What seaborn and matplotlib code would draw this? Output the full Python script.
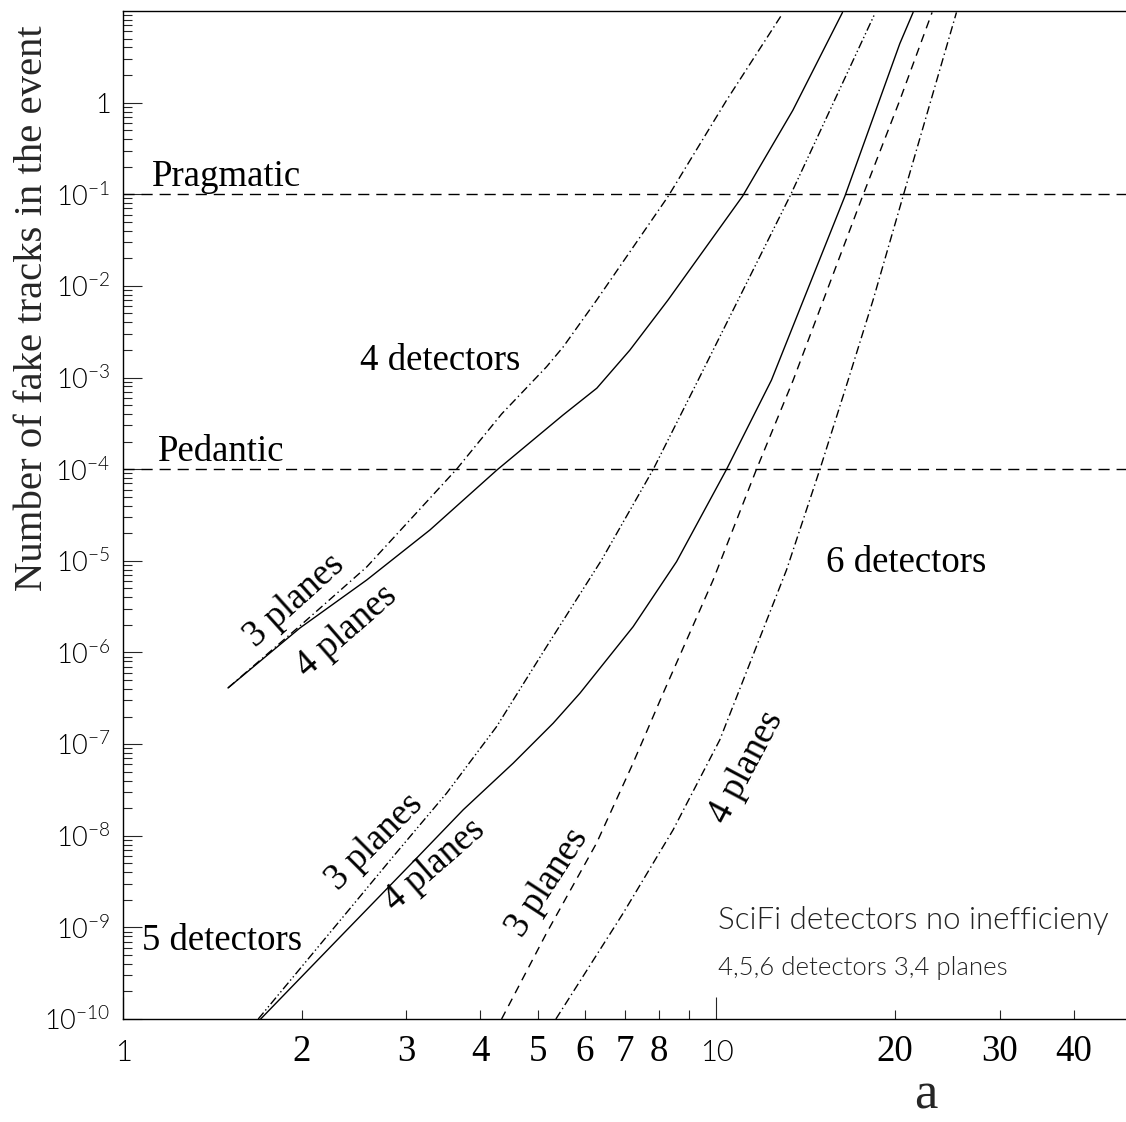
import numpy as np
import pandas as pd
import matplotlib
matplotlib.use("Agg")
import matplotlib.pyplot as plt
import seaborn as sns
from matplotlib.ticker import FixedLocator, FixedFormatter, LogLocator, NullFormatter, FuncFormatter

# ---------------- data ----------------
a_4det_3pl = [1.503, 1.987, 2.574, 3.649, 4.345, 5.173, 5.518, 6.281, 8.293, 10.40, 12.92]
n_4det_3pl = [4.10e-7, 1.95e-6, 8.56e-6, 1.0e-4, 4.0e-4, 1.31e-3, 2.16e-3, 6.98e-3, 0.0951, 1.06, 9.35]

a_4det_4pl = [1.503, 1.987, 2.574, 3.290, 4.266, 5.512, 6.288, 7.146, 8.283, 11.065, 13.45, 16.31]
n_4det_4pl = [4.10e-7, 1.85e-6, 6.17e-6, 2.17e-5, 9.78e-5, 3.89e-4, 7.66e-4, 1.99e-3, 6.98e-3, 0.0951, 0.824, 9.65]

a_5det_3pl = [1.690, 2.196, 2.853, 3.510, 4.261, 5.173, 6.404, 7.825, 9.315, 13.30, 18.49]
n_5det_3pl = [1.0e-10, 7.70e-10, 5.93e-9, 2.91e-8, 1.55e-7, 1.157e-6, 1.02e-5, 9.95e-5, 9.37e-4, 0.0951, 9.35]

a_5det_4pl = [1.706, 2.309, 3.125, 3.744, 4.545, 5.308, 5.888, 7.238, 8.566, 10.40, 12.38, 16.46, 20.37, 21.45]
n_5det_4pl = [1.0e-10, 7.57e-10, 5.70e-9, 1.92e-8, 6.19e-8, 1.69e-7, 3.59e-7, 1.91e-6, 9.78e-6, 9.95e-5, 9.37e-4, 0.0951, 4.40, 9.65]

a_6det_3pl = [4.345, 5.173, 6.281, 7.193, 7.523, 8.133, 9.873, 11.68, 13.47, 17.63, 20.37, 23.09]
n_6det_3pl = [1.0e-10, 8.67e-10, 8.31e-9, 5.68e-8, 1.11e-7, 3.59e-7, 6.17e-6, 9.95e-5, 9.37e-4, 0.0951, 1.06, 9.65]

a_6det_4pl = [5.364, 6.965, 8.454, 10.13, 13.13, 14.94, 16.67, 18.36, 20.63, 25.38]
n_6det_4pl = [1.0e-10, 1.43e-9, 1.16e-8, 1.11e-7, 8.0e-6, 9.95e-5, 9.37e-4, 6.98e-3, 0.0951, 9.65]

ref_levels = [1e-1, 1e-4]
ref_names = ["Pragmatic", "Pedantic"]

x_major_ticks = [1, 10]
x_major_labels = ["1", "10"]
x_minor_ticks = [2, 3, 4, 5, 6, 7, 8, 9, 20, 30, 40]
x_minor_labels = ["2", "3", "4", "5", "6", "7", "8", "", "20", "30", "40"]
y_major_ticks = [1e-10, 1e-9, 1e-8, 1e-7, 1e-6, 1e-5, 1e-4, 1e-3, 1e-2, 1e-1, 1]

series = {
    "4det_3pl": (a_4det_3pl, n_4det_3pl),
    "4det_4pl": (a_4det_4pl, n_4det_4pl),
    "5det_3pl": (a_5det_3pl, n_5det_3pl),
    "5det_4pl": (a_5det_4pl, n_5det_4pl),
    "6det_3pl": (a_6det_3pl, n_6det_3pl),
    "6det_4pl": (a_6det_4pl, n_6det_4pl),
}
frames = [pd.DataFrame({"a": xs, "n": ys, "curve": name}) for name, (xs, ys) in series.items()]
df = pd.concat(frames, ignore_index=True)

dash_styles = {
    "4det_3pl": (6, 2.5, 1, 2.5),
    "4det_4pl": "",
    "5det_3pl": (6, 2, 1, 2, 1, 2),
    "5det_4pl": "",
    "6det_3pl": (6, 4.5),
    "6det_4pl": (6, 2.5, 1, 2.5),
}

# ---------------- style ----------------
sns.set_style("ticks")
LIGHT = ["Lato", "Roboto", "DejaVu Sans"]
SERIF = ["Liberation Serif", "DejaVu Serif"]
plt.rcParams["font.family"] = LIGHT
plt.rcParams["font.weight"] = 300
plt.rcParams["mathtext.default"] = "regular"
plt.rcParams["axes.unicode_minus"] = True

fig = plt.figure(figsize=(11.26, 11.22), dpi=100)
ax = fig.add_axes([123 / 1126, 103 / 1122, 1003 / 1126, 1008 / 1122])

sns.lineplot(data=df, x="a", y="n", style="curve", dashes=dash_styles,
             color="black", lw=1.0, estimator=None, sort=False,
             legend=False, ax=ax)

for lvl in ref_levels:
    ax.axhline(lvl, color="black", lw=1.0, dashes=(8, 5))

ax.set_xscale("log")
ax.set_yscale("log")
ax.set_xlim(1, 49)
ax.set_ylim(1e-10, 10)

# spines
for s in ["left", "bottom", "top"]:
    ax.spines[s].set_color("black")
    ax.spines[s].set_linewidth(1.0)
ax.spines["right"].set_visible(False)

# x ticks
ax.xaxis.set_major_locator(FixedLocator(x_major_ticks))
ax.xaxis.set_major_formatter(FixedFormatter(x_major_labels))
ax.xaxis.set_minor_locator(FixedLocator(x_minor_ticks))
ax.xaxis.set_minor_formatter(FixedFormatter(x_minor_labels))
ax.tick_params(axis="x", which="major", direction="in", length=15.8, width=0.8,
               pad=15, labelsize=21, labelcolor="black", bottom=True, top=False)
ax.tick_params(axis="x", which="minor", direction="in", length=6.8, width=0.8,
               pad=11, labelsize=26.6, labelcolor="black", labelfontfamily=SERIF,
               bottom=True, top=False)
for t in ax.xaxis.get_minorticklabels():
    t.set_fontweight("normal")
for t in ax.xaxis.get_majorticklabels():
    t.set_fontweight(300)

# y ticks
def ylab(v, pos):
    e = int(round(np.log10(v)))
    if e == 0:
        return "1"
    return r"$10^{%d}$" % e

ax.yaxis.set_major_locator(FixedLocator(y_major_ticks))
ax.yaxis.set_major_formatter(FuncFormatter(ylab))
ax.yaxis.set_minor_locator(LogLocator(base=10, subs=np.arange(2, 10), numticks=30))
ax.yaxis.set_minor_formatter(NullFormatter())
ax.tick_params(axis="y", which="major", direction="in", length=13.7, width=0.8,
               pad=9, labelsize=19.5, labelcolor="black", left=True, right=False)
ax.tick_params(axis="y", which="minor", direction="in", length=6.8, width=0.8,
               left=True, right=False)
for t in ax.yaxis.get_majorticklabels():
    t.set_fontweight(300)

# axis titles
ax.set_ylabel("Number of fake tracks in the event", fontfamily=SERIF, fontweight="normal",
              fontsize=29.3, ha="right", va="baseline", rotation_mode="anchor")
ax.yaxis.set_label_coords(-0.0808, 0.986)
ax.set_xlabel("a", fontfamily=SERIF, fontweight="normal", fontsize=38, ha="center", va="bottom")
ax.xaxis.set_label_coords(0.8006, -0.1)

# annotations
tk = dict(fontfamily=SERIF, fontweight="normal", fontsize=26.5, color="black")
ax.text(1.119, 0.122, ref_names[0], ha="left", va="baseline", **tk)
ax.text(1.146, 1.23e-4, ref_names[1], ha="left", va="baseline", **tk)
ax.text(2.508, 1.2e-3, "4 detectors", ha="left", va="baseline", **tk)
ax.text(15.29, 7.55e-6, "6 detectors", ha="left", va="baseline", **tk)
ax.text(1.075, 5.7e-10, "5 detectors", ha="left", va="baseline", **tk)

rot_labels = [
    (1.949, 3.65e-6, "3 planes", 42),
    (2.384, 1.72e-6, "4 planes", 41),
    (2.658, 8.58e-9, "3 planes", 45),
    (3.355, 4.82e-9, "4 planes", 41),
    (5.199, 3.06e-9, "3 planes", 57),
    (11.21, 5.64e-8, "4 planes", 62),
]
for x, y, s, r in rot_labels:
    ax.text(x, y, s, rotation=r, rotation_mode="anchor", ha="center", va="center", **tk)

ax.text(10.06, 9.66e-10, "SciFi detectors no inefficieny", ha="left", va="baseline",
        fontsize=22.5, fontweight=300, color="#222222")
ax.text(10.06, 3.04e-10, "4,5,6 detectors 3,4 planes", ha="left", va="baseline",
        fontsize=18.5, fontweight=300, color="#222222")

fig.savefig("out.png", dpi=100, facecolor="white")
